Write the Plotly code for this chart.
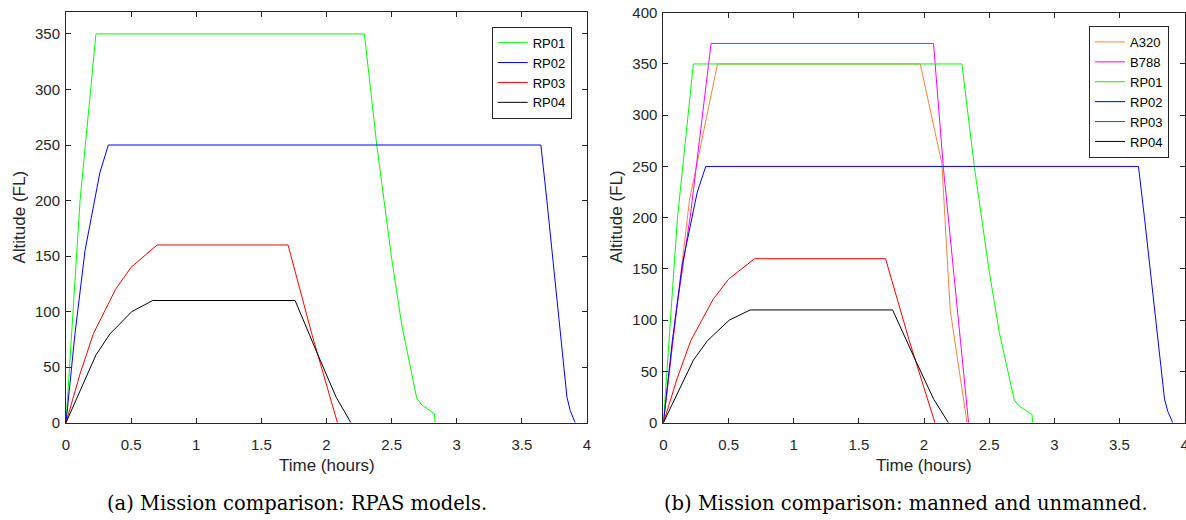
import plotly.graph_objects as go

# ---- mission profiles: time (hours) vs altitude (FL) ----
RP01_t = [0, 0.108, 0.23, 2.291, 2.386, 2.50, 2.578, 2.693, 2.732, 2.829, 2.834]
RP01_alt = [0, 200, 350, 350, 250, 148, 88, 22, 16, 8, 0]

RP02_t = [0, 0.069, 0.146, 0.217, 0.26, 0.325, 3.646, 3.692, 3.73, 3.846, 3.871, 3.909]
RP02_alt = [0, 80, 155, 200, 225, 250, 250, 200, 155, 23, 11, 0]

RP03_t = [0, 0.108, 0.21, 0.38, 0.5, 0.7, 1.705, 1.887, 2.084]
RP03_alt = [0, 44, 80, 120, 140, 160, 160, 80, 0]

RP04_t = [0, 0.108, 0.23, 0.338, 0.505, 0.666, 1.759, 1.938, 2.074, 2.187]
RP04_alt = [0, 29, 61, 80, 100, 110, 110, 60, 23, 0]

A320_t = [0, 0.2, 0.415, 1.971, 2.137, 2.201, 2.33]
A320_alt = [0, 217, 350, 350, 253, 110, 0]

B788_t = [0, 0.1, 0.21, 0.366, 2.073, 2.15, 2.342]
B788_alt = [0, 110, 205, 370, 370, 247, 0]

x_ticks = [0, 0.5, 1, 1.5, 2, 2.5, 3, 3.5, 4]
x_tick_text = ["0", "0.5", "1", "1.5", "2", "2.5", "3", "3.5", "4"]
y_ticks_a = [0, 50, 100, 150, 200, 250, 300, 350]
y_ticks_b = [0, 50, 100, 150, 200, 250, 300, 350, 400]

captions = ["(a) Mission comparison: RPAS models.",
            "(b) Mission comparison: manned and unmanned."]

COLORS = {
    "A320": "#FF8040",
    "B788": "#FF00FF",
    "RP01": "#00FF00",
    "RP02": "#0000FF",
    "RP03": "#FF0000",
    "RP04": "#000000",
}

W, H = 1186, 520
AX_COL = "#262626"
FONT = "Liberation Sans, Arial, sans-serif"

fig = go.Figure()

left = [("RP01", RP01_t, RP01_alt), ("RP02", RP02_t, RP02_alt),
        ("RP03", RP03_t, RP03_alt), ("RP04", RP04_t, RP04_alt)]
right = [("A320", A320_t, A320_alt), ("B788", B788_t, B788_alt)] + left

for name, t, a in left:
    fig.add_trace(go.Scatter(x=t, y=a, mode="lines", name=name,
                             line=dict(color=COLORS[name], width=1),
                             xaxis="x", yaxis="y", legend="legend"))
for name, t, a in right:
    fig.add_trace(go.Scatter(x=t, y=a, mode="lines", name=name,
                             line=dict(color=COLORS[name], width=1),
                             xaxis="x2", yaxis="y2", legend="legend2"))

# panel boxes in pixels -> paper fractions
def px_x(p):
    return p / W

def px_y(p):
    return 1 - p / H

axis_common = dict(showline=True, linecolor=AX_COL, linewidth=1, mirror="ticks",
                   ticks="inside", ticklen=5, tickcolor=AX_COL, tickwidth=1,
                   showgrid=False, zeroline=False, automargin=False,
                   ticklabeloverflow="allow",
                   tickfont=dict(family=FONT, size=15, color=AX_COL))
x_common = dict(ticklabelstandoff=8, **axis_common)
y_common = dict(ticklabelstandoff=2, **axis_common)

legend_common = dict(xanchor="right", yanchor="top",
                     bgcolor="white", bordercolor=AX_COL, borderwidth=1,
                     font=dict(family=FONT, size=13, color="#000000"),
                     tracegroupgap=0, itemwidth=30)

fig.update_layout(
    width=W, height=H, autosize=False,
    margin=dict(l=0, r=0, t=0, b=0, pad=0),
    paper_bgcolor="white", plot_bgcolor="white",
    xaxis=dict(domain=[px_x(66), px_x(587)], range=[0, 4], anchor="y",
               tickvals=x_ticks, ticktext=x_tick_text, **x_common),
    yaxis=dict(domain=[px_y(422.7), px_y(11.7)], range=[0, 370], anchor="x",
               tickvals=y_ticks_a, **y_common),
    xaxis2=dict(domain=[px_x(663.4), px_x(1184.6)], range=[0, 4], anchor="y2",
                tickvals=x_ticks, ticktext=x_tick_text, **x_common),
    yaxis2=dict(domain=[px_y(422.7), px_y(12.7)], range=[0, 400], anchor="x2",
                tickvals=y_ticks_b, **y_common),
    legend=dict(x=px_x(571.7), y=px_y(26.7), **legend_common),
    legend2=dict(x=px_x(1169), y=px_y(26), **legend_common),
    showlegend=True,
)

# axis titles
for cx, cy in [(326.5, 465), (924, 465)]:
    fig.add_annotation(text="Time (hours)", x=px_x(cx), y=px_y(cy),
                       xref="paper", yref="paper", showarrow=False,
                       xanchor="center", yanchor="middle",
                       font=dict(family=FONT, size=17, color=AX_COL))
for cx, cy in [(18.5, 217), (616, 217)]:
    fig.add_annotation(text="Altitude (FL)", x=px_x(cx), y=px_y(cy),
                       xref="paper", yref="paper", showarrow=False, textangle=-90,
                       xanchor="center", yanchor="middle",
                       font=dict(family=FONT, size=17, color=AX_COL))

# sub-figure captions
for cx, text in [(297, captions[0]), (906, captions[1])]:
    fig.add_annotation(text=text, x=px_x(cx), y=px_y(503),
                       xref="paper", yref="paper", showarrow=False,
                       xanchor="center", yanchor="middle",
                       font=dict(family="DejaVu Serif, serif", size=19.5, color="#000000"))

fig.write_html("out.html")
